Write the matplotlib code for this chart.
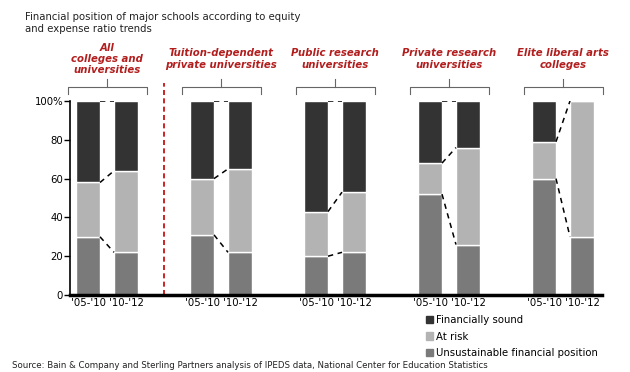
import numpy as np
import matplotlib
matplotlib.use("Agg")
from matplotlib import pyplot as plt
from matplotlib import transforms
from matplotlib.patches import Patch

groups = ["All\ncolleges and\nuniversities",
          "Tuition-dependent\nprivate universities",
          "Public research\nuniversities",
          "Private research\nuniversities",
          "Elite liberal arts\ncolleges"]
periods = ["'05-'10", "'10-'12"]

# share of schools (%), first period then second period
unsust_05 = [30, 31, 20, 52, 60]
risk_05 = [28, 29, 23, 16, 19]
sound_05 = [42, 40, 57, 32, 21]
unsust_10 = [22, 22, 22, 26, 30]
risk_10 = [42, 43, 31, 50, 70]
sound_10 = [36, 35, 47, 24, 0]

c_sound = "#333333"
c_risk = "#b3b3b3"
c_unsust = "#7a7a7a"
red = "#b21e1e"

fig = plt.figure(figsize=(6.3, 3.72), dpi=100)
ax = fig.add_axes([70 / 630, 77 / 372, 532 / 630, 194 / 372])

gx = np.arange(len(groups))
off = 19 / 114
w = 24 / 114

series = [(unsust_05, risk_05, sound_05), (unsust_10, risk_10, sound_10)]
xs = [gx - off, gx + off]
for x, (u, r, s) in zip(xs, series):
    u, r, s = np.array(u), np.array(r), np.array(s)
    ax.bar(x, u, w, color=c_unsust, edgecolor="white", linewidth=1)
    ax.bar(x, r, w, bottom=u, color=c_risk, edgecolor="white", linewidth=1)
    ax.bar(x, s, w, bottom=u + r, color=c_sound, edgecolor="white", linewidth=1)

# dashed connectors between the two periods
for i in gx:
    a = [unsust_05[i], unsust_05[i] + risk_05[i], 100]
    b = [unsust_10[i], unsust_10[i] + risk_10[i], 100]
    for k in range(3):
        if k == 2 and sound_10[i] == 0:
            continue
        ax.plot([i - off + w / 2, i + off - w / 2], [a[k], b[k]],
                color="black", lw=1.1, dashes=(3.5, 3), zorder=3)

ax.set_xlim(-37 / 114, 495 / 114)
ax.set_ylim(0, 100)
ax.set_yticks([0, 20, 40, 60, 80, 100])
ax.set_yticklabels(["0", "20", "40", "60", "80", "100%"])
ax.set_xticks(np.concatenate([gx - off, gx + off]))
ax.set_xticklabels([periods[0]] * 5 + [periods[1]] * 5)
ax.tick_params(axis="y", length=4, width=1, labelsize=7.3, pad=1)
ax.tick_params(axis="x", length=0, labelsize=7.3, pad=2.5)
for sp in ["top", "right"]:
    ax.spines[sp].set_visible(False)
ax.spines["left"].set_linewidth(1.2)
ax.spines["bottom"].set_linewidth(2.5)

# red separator
ax.axvline(0.5, ymin=0, ymax=(295 - 83) / 194, color="#c00000", lw=1.2,
           dashes=(3, 2), clip_on=False)

# group labels and brackets
tr = transforms.blended_transform_factory(ax.transData, fig.transFigure)
def fy(p):
    return (372 - p) / 372
bw = 39.5 / 114
for i, g in enumerate(groups):
    ax.text(i, fy(59), g, transform=tr, ha="center", va="center",
            color=red, fontsize=7.3, fontweight="bold", fontstyle="italic",
            linespacing=1.15)
    ax.plot([i - bw, i - bw, i + bw, i + bw], [fy(94), fy(87), fy(87), fy(94)],
            transform=tr, color="#666666", lw=0.8, clip_on=False)
    ax.plot([i, i], [fy(87), fy(79)], transform=tr, color="#666666", lw=0.8,
            clip_on=False)

fig.text(25 / 630, fy(23), "Financial position of major schools according to equity\nand expense ratio trends",
         ha="left", va="center", fontsize=7.3, color="#222222", linespacing=1.2)
fig.text(12 / 630, fy(365), "Source: Bain & Company and Sterling Partners analysis of IPEDS data, National Center for Education Statistics",
         ha="left", va="center", fontsize=6.2, color="#222222")

handles = [Patch(color=c_sound), Patch(color=c_risk), Patch(color=c_unsust)]
labels = ["Financially sound", "At risk", "Unsustainable financial position"]
fig.legend(handles, labels, loc="upper left", bbox_to_anchor=(426 / 630, fy(315)),
           frameon=False, fontsize=7.3, handlelength=0.7, handleheight=0.7,
           handletextpad=0.25, labelspacing=0.65, borderpad=0, borderaxespad=0)

fig.savefig("out.png", dpi=100)
